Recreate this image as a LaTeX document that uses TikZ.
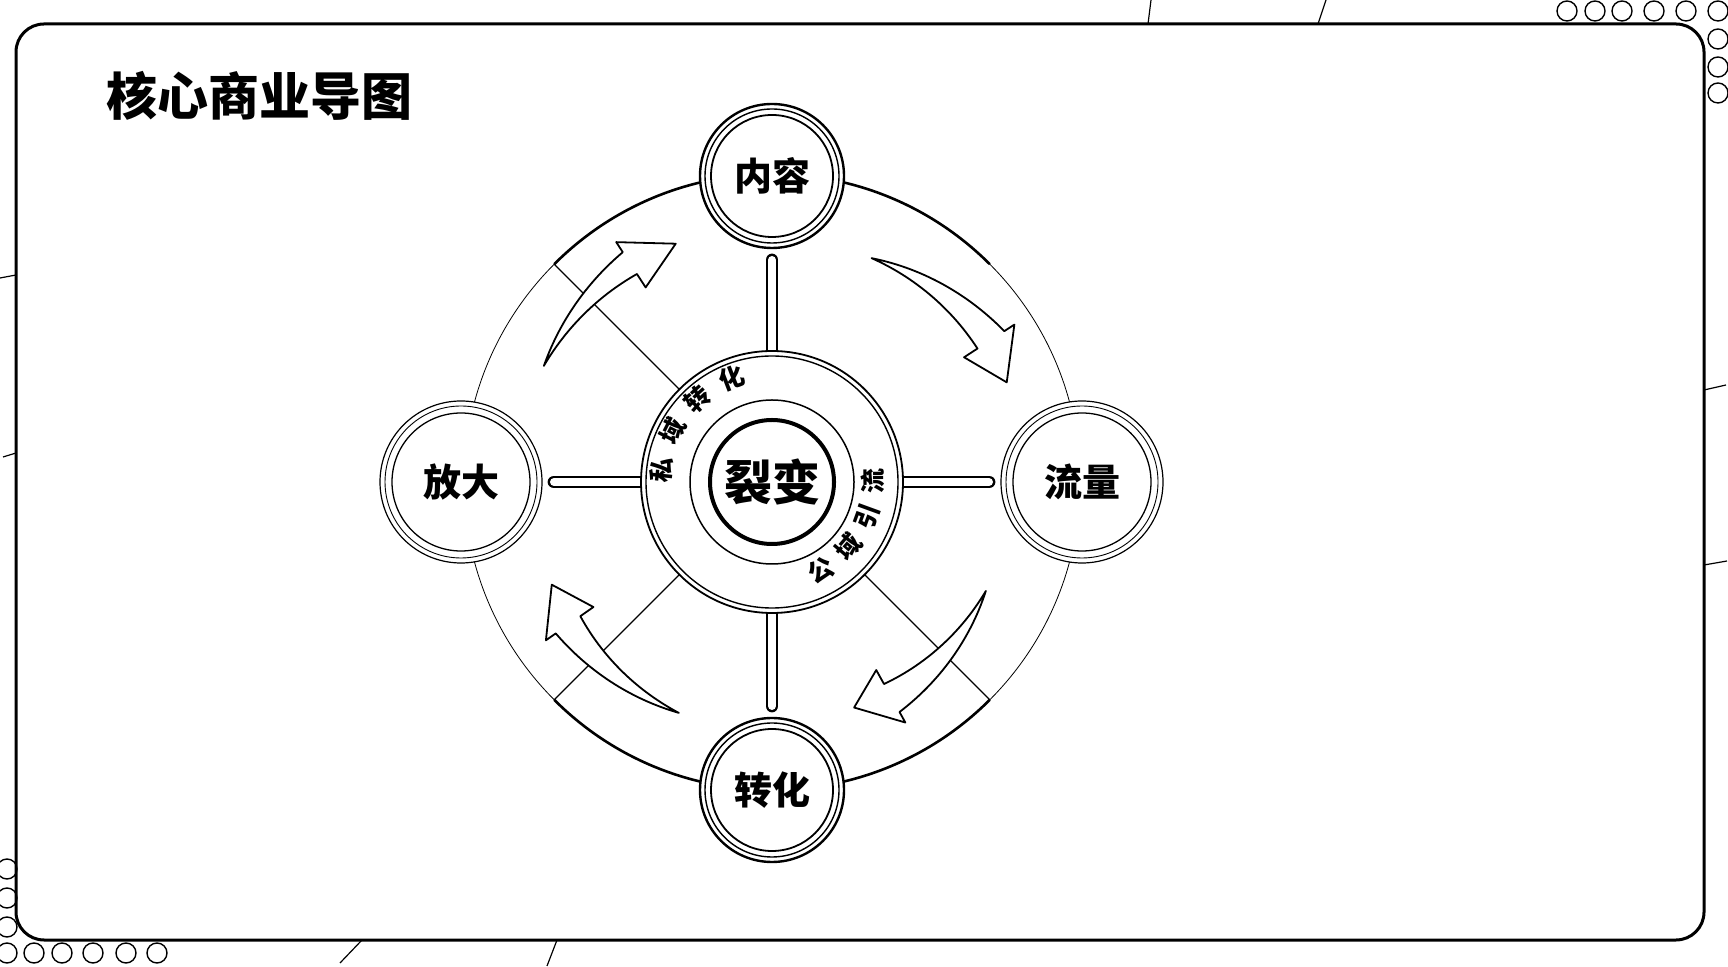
\documentclass[tikz,border=0pt]{standalone}
\usepackage{fontspec}
\setmainfont{Noto Sans CJK SC}
\usetikzlibrary{positioning, backgrounds}

% curved band arrow: tail angle, tail radius, head angle, outer r, inner r, tip angle, tip r
\newcommand{\swoosh}[7]{%
  \draw[arrowband] plot[domain=#1:#3, samples=30] (\x:{#2+(#4-#2)*(\x-#1)/(#3-#1)})
    -- (#3:{#4+12}) -- (#6:#7) -- (#3:{#5-16})
    -- plot[domain=#3:#1, samples=30] (\x:{#2+(#5-#2)*(\x-#1)/(#3-#1)}) -- cycle;}

\begin{document}
\begin{tikzpicture}[x=1pt, y=1pt,
    frame/.style={line width=3pt, rounded corners=28pt},
    dot/.style={circle, draw, line width=1.4pt, minimum size=20pt, inner sep=0pt},
    tick/.style={line width=1.2pt},
    sat/.style={circle, draw, fill=white, line width=2.4pt, minimum size=144pt,
        inner sep=0pt, outer sep=0pt, font=\bfseries\fontsize{38}{38}\selectfont},
    widesat/.style={sat, line width=1.2pt, minimum size=162pt},
    spoke/.style={line width=2.4pt, double=white, double distance=8pt,
        line cap=round, shorten <=-14pt, shorten >=12pt},
    arrowband/.style={draw, fill=white, line width=1.8pt, line join=round},
    ringtext/.style={inner sep=0pt, text height=0.8em, text depth=0pt,
        font=\bfseries\fontsize{25}{25}\selectfont}]
\useasboundingbox (0,0) rectangle (1728,966);

% Draw frame
\draw[frame] (16,26) rectangle (1704,942);

% Draw corner dots
\foreach \x in {1567,1595,1622,1654,1686,1718} \node[dot] (top\x) at (\x,955) {};
\foreach \y in {927,899,873} \node[dot] (right\y) at (1718,\y) {};
\foreach \x in {7,34,62,93,126,157} \node[dot] (bottom\x) at (\x,13) {};
\foreach \y in {97,68,39} \node[dot] (left\y) at (7,\y) {};

% Draw ticks on the frame
\draw[tick] (1148,942) -- (1151,966);
\draw[tick] (1318,942) -- (1326,966);
\draw[tick] (362,26) -- (340,3);
\draw[tick] (557,26) -- (547,0);
\draw[tick] (16,691) -- (0,688);
\draw[tick] (16,513) -- (3,509);
\draw[tick] (1704,576) -- (1726,581);
\draw[tick] (1704,401) -- (1727,405);

% Title
\node[anchor=west, inner sep=0pt, font=\bfseries\fontsize{51}{51}\selectfont] (title) at (106,870) {核心商业导图};

% Center ring
\node[circle, draw, fill=white, line width=1.8pt, minimum size=262pt, outer sep=0pt] (ring) at (772,484) {};
\draw[line width=1.4pt] (ring) circle[radius=126];
\draw[line width=1.5pt] (ring) circle[radius=82];
\node[circle, draw, line width=4pt, minimum size=124pt, font=\bfseries\fontsize{48}{48}\selectfont] (hub) at (ring) {裂变};

% Ring texts
\foreach \ch [count=\i, evaluate=\i as \a using 174-21*(\i-1)] in {私,域,转,化}
    \node[ringtext, rotate=\a-90] (pv\i) at ([shift={(\a:106)}]ring.center) {\ch};
\foreach \ch [count=\i, evaluate=\i as \a using -61+20.5*(\i-1)] in {公,域,引,流}
    \node[ringtext, rotate=\a+90] (pb\i) at ([shift={(\a:106)}]ring.center) {\ch};

% Satellites
\node[sat, above=103pt of ring] (content) {内容};
\node[sat, below=105pt of ring] (convert) {转化};
\node[widesat, left=99pt of ring] (amplify) {放大};
\node[widesat, right=98pt of ring] (traffic) {流量};
\foreach \n in {content, convert} {
    \draw[line width=1.4pt] (\n) circle[radius=67];
    \draw[line width=1.8pt] (\n) circle[radius=61];
}
\foreach \n in {amplify, traffic} {
    \draw[line width=0.9pt] (\n) circle[radius=76];
    \draw[line width=1.3pt] (\n) circle[radius=69];
}

% Orbit and spokes
\begin{scope}[on background layer]
    \draw[line width=0.8pt] (ring.center) circle[radius=308];
    \draw[line width=2.6pt] ([shift={(45:308)}]ring.center) arc[start angle=45, end angle=135, radius=308];
    \draw[line width=2.6pt] ([shift={(225:308)}]ring.center) arc[start angle=225, end angle=315, radius=308];
    \foreach \n in {content, traffic, convert, amplify} \draw[spoke] (ring) -- (\n);
    \foreach \a in {135, 225, 315} \draw[line width=1.3pt] (ring.\a) -- ([shift={(\a:308)}]ring.center);
\end{scope}

% Curved arrows
\begin{scope}[shift={(ring.center)}]
    \swoosh{153}{256}{123}{274}{248}{112}{257}
    \swoosh{66}{245}{33}{277}{245}{23}{255}
    \swoosh{-27}{240}{-61}{263}{231}{-70}{240}
    \swoosh{248}{249}{215}{264}{234}{205}{243}
\end{scope}
\end{tikzpicture}
\end{document}
